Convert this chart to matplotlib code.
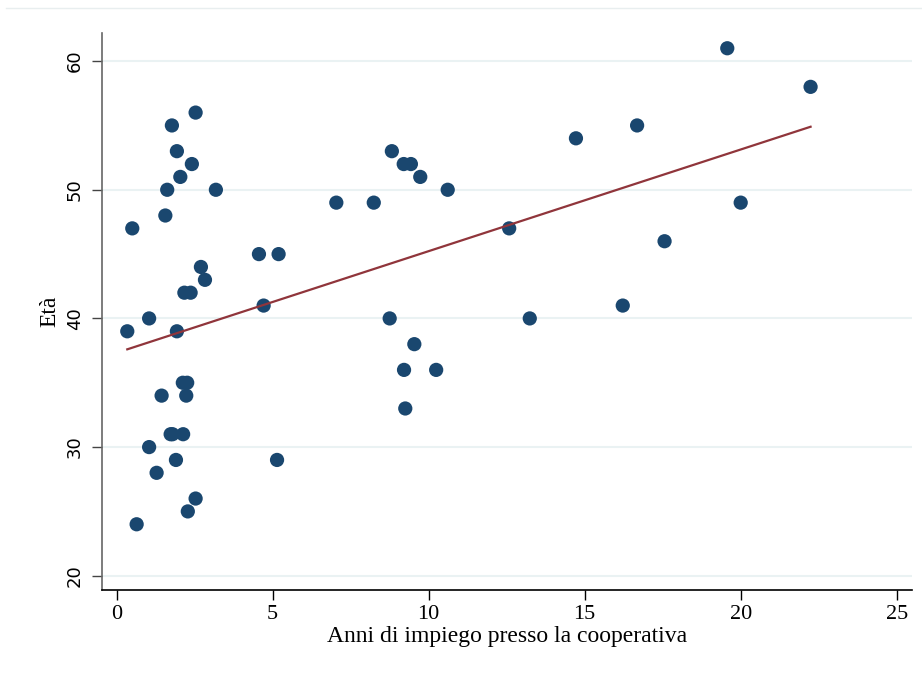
import numpy as np
import matplotlib
matplotlib.use('Agg')
import matplotlib.pyplot as plt
from matplotlib.lines import Line2D

# dati: anni di impiego e età
anni = [0.34, 0.50, 0.64, 1.04, 1.04, 1.28, 1.44, 1.56, 1.62, 1.73,
        1.79, 1.77, 1.90, 1.93, 1.93, 2.04, 2.12, 2.13, 2.17, 2.26,
        2.23, 2.28, 2.37, 2.41, 2.53, 2.53, 2.70, 2.83, 3.18, 4.56,
        4.71, 5.14, 5.19, 7.04, 8.24, 8.75, 8.82, 9.21, 9.25, 9.20,
        9.43, 9.54, 9.73, 10.24, 10.61, 12.58, 13.24, 14.72, 16.22, 16.68,
        17.56, 19.57, 20.00, 22.24]
eta = [39, 47, 24, 40, 30, 28, 34, 48, 50, 31,
       31, 55, 29, 39, 53, 51, 35, 31, 42, 35,
       34, 25, 42, 52, 56, 26, 44, 43, 50, 45,
       41, 29, 45, 49, 49, 40, 53, 36, 33, 52,
       52, 38, 51, 36, 50, 47, 40, 54, 41, 55,
       46, 61, 49, 58]

# coefficienti della retta lfit
intercetta = 37.33
pendenza = 0.79

x_ticks = [0, 5, 10, 15, 20, 25]
y_ticks = [20, 30, 40, 50, 60]

x = np.array(anni)
y = np.array(eta)

xf = np.array([x.min(), x.max()])
yf = intercetta + pendenza * xf

fig = plt.figure(figsize=(9.22, 6.75), dpi=100)
ax = fig.add_axes([0.1103, 0.1259, 0.8785, 0.8251])

for t in y_ticks:
    ax.axhline(t, color='#eaf2f3', lw=1.5, zorder=0)

ax.scatter(x, y, s=105, color='#1a476f', edgecolors='none', zorder=3)
ax.plot(xf, yf, color='#90353b', lw=1.6, zorder=4)

ax.set_xlim(-0.48, 25.48)
ax.set_ylim(18.89, 62.18)

ax.set_xticks(x_ticks)
ax.set_yticks(y_ticks)
ax.set_xticklabels([str(t) for t in x_ticks], family='Liberation Serif', fontsize=16)
ax.set_yticklabels([str(t) for t in y_ticks], family='DejaVu Sans', fontsize=13,
                   rotation=90, va='center')

ax.spines['top'].set_visible(False)
ax.spines['right'].set_visible(False)
ax.spines['left'].set_color('#666666')
ax.spines['left'].set_linewidth(1.2)
ax.spines['bottom'].set_color('black')
ax.spines['bottom'].set_linewidth(1.2)
ax.tick_params(axis='x', direction='out', length=7, width=1.0, color='black', pad=4)
ax.tick_params(axis='y', direction='out', length=7, width=1.0, color='#444444', pad=6)

ax.set_xlabel('Anni di impiego presso la cooperativa', family='Liberation Serif',
              fontsize=17, labelpad=1)
ax.set_ylabel('Età', family='Liberation Serif', fontsize=17, labelpad=4)

# linea sottile in alto (bordo del grafico)
fig.add_artist(Line2D([0.006, 1.0], [0.988, 0.988], transform=fig.transFigure,
                      color='#e8eeef', lw=1))

fig.savefig('out.png', dpi=100)
